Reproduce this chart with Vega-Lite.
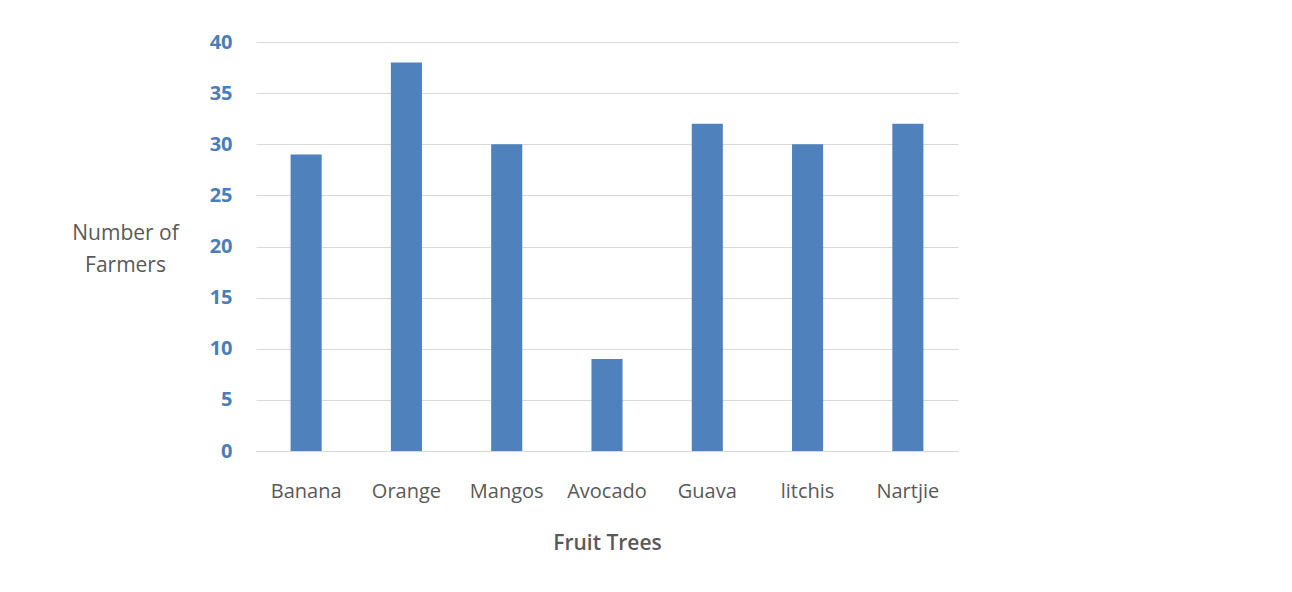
{
  "$schema": "https://vega.github.io/schema/vega-lite/v6.json",
  "width": 702,
  "height": 409,
  "autosize": {"type": "none"},
  "padding": {"left": 256, "top": 42, "right": 334, "bottom": 141},
  "background": "white",
  "config": {"view": {"stroke": null}, "font": "Open Sans"},
  "data": {"values": [
    {"fruit": "Banana", "farmers": 29},
    {"fruit": "Orange", "farmers": 38},
    {"fruit": "Mangos", "farmers": 30},
    {"fruit": "Avocado", "farmers": 9},
    {"fruit": "Guava", "farmers": 32},
    {"fruit": "litchis", "farmers": 30},
    {"fruit": "Nartjie", "farmers": 32}
  ]},
  "mark": {"type": "bar", "color": "#4F81BD"},
  "encoding": {
    "x": {
      "field": "fruit", "type": "nominal", "sort": null,
      "scale": {"paddingInner": 0.69, "paddingOuter": 0.345},
      "axis": {
        "title": "Fruit Trees", "labelAngle": 0, "ticks": false, "domain": true,
        "domainColor": "#d9d9d9", "labelColor": "#595959", "labelFontSize": 20,
        "labelPadding": 30, "titleColor": "#595959", "titleFontSize": 21,
        "titleFontWeight": 600, "titlePadding": 31
      }
    },
    "y": {
      "field": "farmers", "type": "quantitative",
      "scale": {"domain": [0, 40]},
      "axis": {
        "title": ["Number of", "Farmers"], "titleAngle": 0, "titleAlign": "center",
        "titleBaseline": "middle", "titleX": -131, "titleY": 191, "titleLineHeight": 32,
        "titleColor": "#595959", "titleFontSize": 21, "titleFontWeight": "normal",
        "values": [0, 5, 10, 15, 20, 25, 30, 35, 40], "ticks": false, "domain": false,
        "gridColor": "#d9d9d9", "labelColor": "#4A7EBB", "labelFontSize": 20,
        "labelFontWeight": "bold", "labelPadding": 24
      }
    }
  }
}
